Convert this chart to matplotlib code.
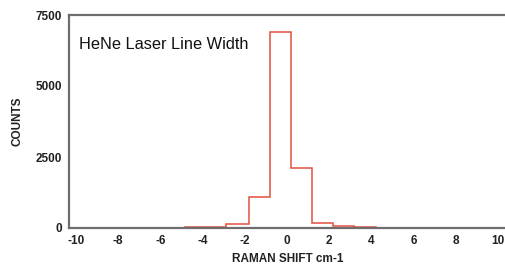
import matplotlib
matplotlib.use("Agg")
import matplotlib.pyplot as plt

# Histogram-style step data (bin edges in cm-1, counts)
bin_edges = [-10.33, -4.83, -3.84, -2.89, -1.80, -0.82, 0.175, 1.18, 2.18, 3.2, 4.2, 10.38]
counts = [5, 20, 50, 140, 1100, 6900, 2120, 190, 60, 30, 12]

x_ticks = [-10, -8, -6, -4, -2, 0, 2, 4, 6, 8, 10]
y_ticks = [0, 2500, 5000, 7500]

plt.rcParams['font.family'] = ['Liberation Sans', 'DejaVu Sans']

fig = plt.figure(figsize=(5.06, 2.68), dpi=100)
ax = fig.add_axes([69/506, 1-228/268, (506-69)/506, (228-15)/268])

ax.stairs(counts, bin_edges, color='#e2503c', linewidth=1.1)

ax.set_xlim(-10.33, 10.38)
ax.set_ylim(0, 7500)
ax.set_xticks(x_ticks)
ax.set_yticks(y_ticks)
ax.set_xticklabels([str(t) for t in x_ticks], fontsize=8.5, fontweight='bold', color='#222222')
ax.set_yticklabels([str(t) for t in y_ticks], fontsize=8.5, fontweight='bold', color='#222222')
ax.tick_params(length=0, pad=5)

for s in ['left', 'bottom', 'top']:
    ax.spines[s].set_color('#6e6e6e')
    ax.spines[s].set_linewidth(1.6)
ax.spines['right'].set_visible(False)

ax.set_xlabel('RAMAN SHIFT cm-1', fontsize=8.5, fontweight='bold', color='#222222', labelpad=4)
ax.set_ylabel('COUNTS', fontsize=8.5, fontweight='bold', color='#222222', labelpad=9)

ax.text(0.022, 0.86, 'HeNe Laser Line Width', transform=ax.transAxes,
        fontsize=11.8, color='#111111', va='center', ha='left')

fig.savefig('out.png', dpi=100)
